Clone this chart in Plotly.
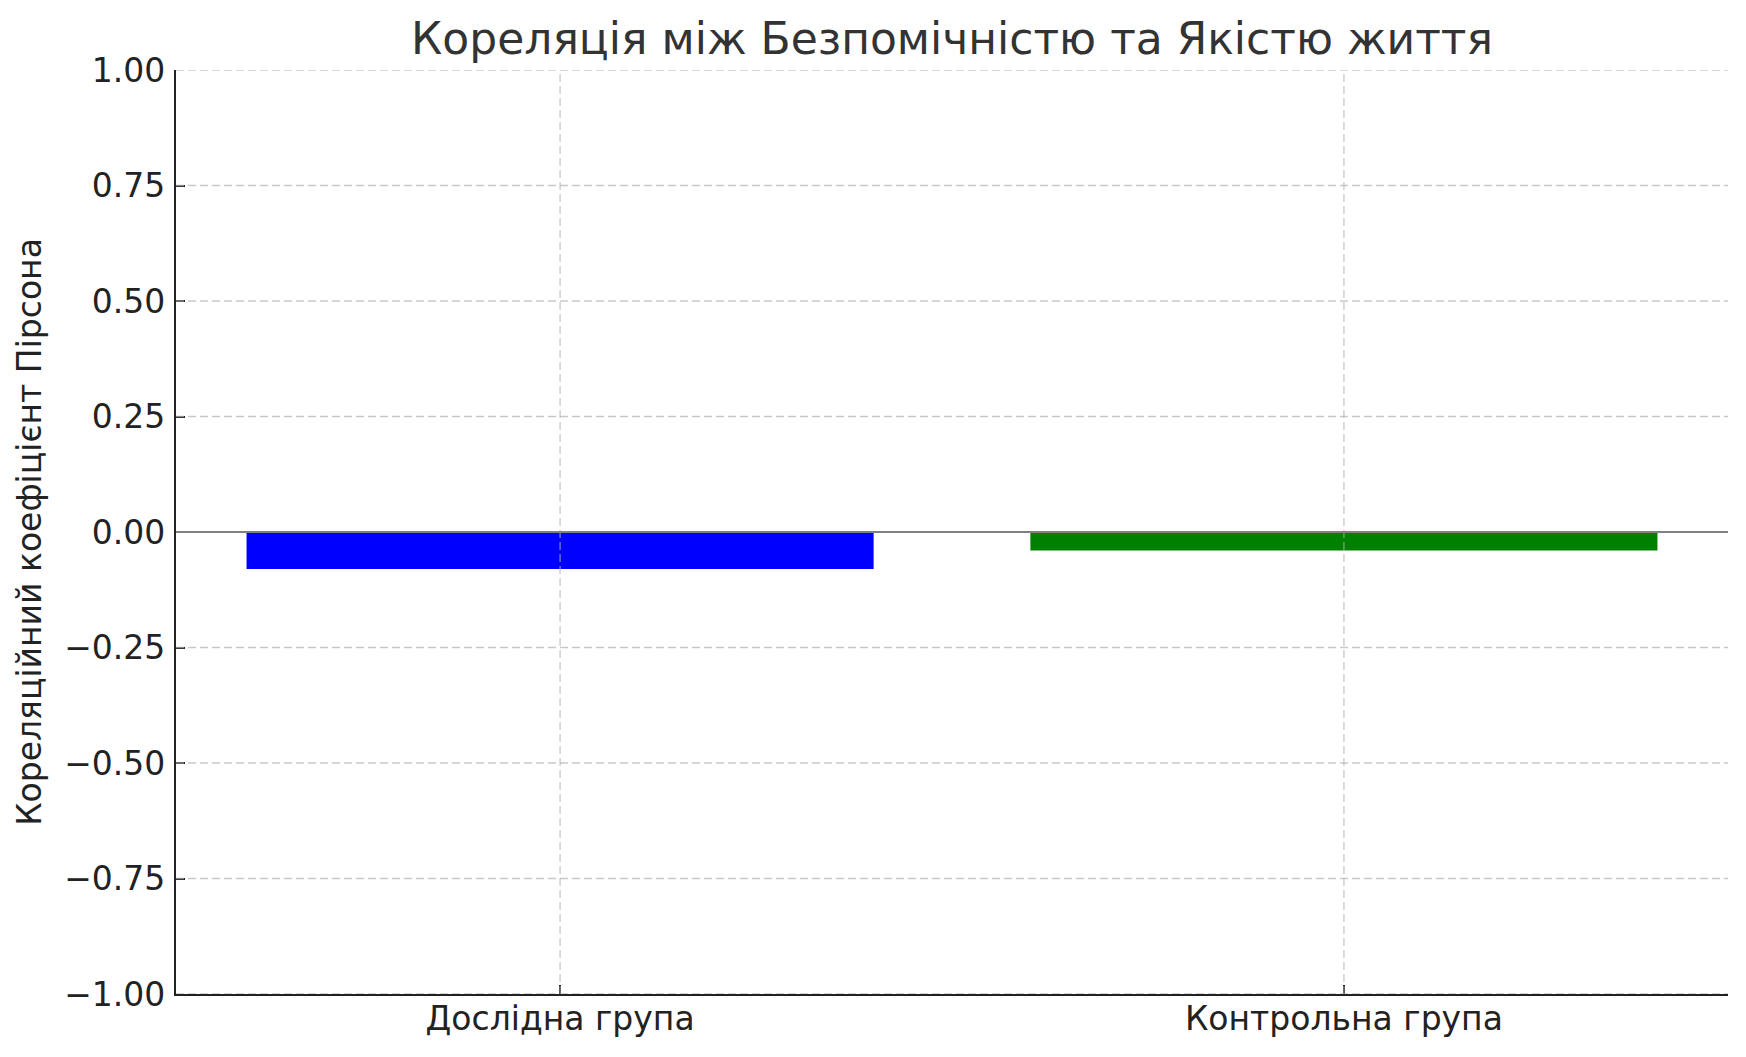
import plotly.graph_objects as go

groups = ['Дослідна група', 'Контрольна група']
correlations = [-0.08, -0.04]
bar_colors = ['blue', 'green']
y_ticks = [-1.0, -0.75, -0.5, -0.25, 0.0, 0.25, 0.5, 0.75, 1.0]

font_family = 'DejaVu Sans'
grid_color = 'rgba(176, 176, 176, 0.7)'
spine_color = '#222222'

fig = go.Figure()
fig.add_trace(go.Bar(x=groups, y=correlations, width=0.8,
                     marker_color=bar_colors, marker_line_width=0))

# сітка поверх стовпців, як у matplotlib
for v in y_ticks:
    fig.add_shape(type='line', xref='paper', yref='y', x0=0, x1=1, y0=v, y1=v,
                  line=dict(color=grid_color, width=1.3, dash='8px,4px'), layer='above')
for g in groups:
    fig.add_shape(type='line', xref='x', yref='paper', x0=g, x1=g, y0=0, y1=1,
                  line=dict(color=grid_color, width=1.3, dash='8px,4px'), layer='above')

# лінія нуля
fig.add_hline(y=0, line=dict(color='grey', width=2), layer='above')

# сторінка має відступ 8px, тому фігура трохи менша за вікно
W, H = 1738, 1049
fig.update_layout(
    width=W, height=H,
    margin=dict(l=168, r=18, t=62, b=63, autoexpand=False),
    paper_bgcolor='white', plot_bgcolor='white',
    showlegend=False,
    font=dict(family=font_family, size=33, color='#222222'),
    title=dict(text='Кореляція між Безпомічністю та Якістю життя',
               font=dict(family=font_family, size=44, color='#333333'),
               x=(168 + W - 18) / 2 / W, xanchor='center',
               y=1 - 31 / H, yanchor='middle'),
)

fig.update_xaxes(
    type='category', range=[-0.49, 1.49],
    showgrid=False, zeroline=False,
    showline=True, linecolor=spine_color, linewidth=2.2,
    ticks='inside', ticklen=9, tickwidth=2, tickcolor=spine_color,
    ticklabelstandoff=-6,
    tickfont=dict(family=font_family, size=33, color='#222222'),
)
fig.update_yaxes(
    range=[-1, 1], tickvals=y_ticks, tickformat='.2f',
    showgrid=False, zeroline=False,
    showline=True, linecolor=spine_color, linewidth=2.2,
    ticks='inside', ticklen=9, tickwidth=2, tickcolor=spine_color,
    ticklabelstandoff=2,
    tickfont=dict(family=font_family, size=33, color='#222222'),
    title=dict(text='Кореляційний коефіцієнт Пірсона',
               font=dict(family=font_family, size=33, color='#222222'),
               standoff=13),
)

fig.write_html('out.html')
